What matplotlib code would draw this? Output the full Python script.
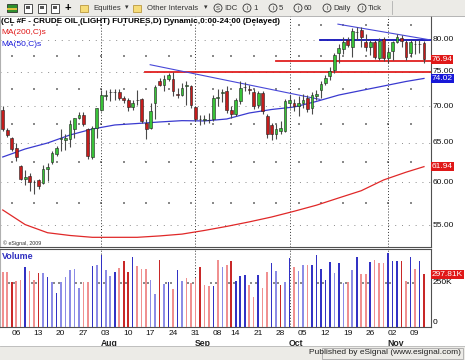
import matplotlib
matplotlib.use("Agg")
import matplotlib.pyplot as plt
import matplotlib.transforms as mtrans
from matplotlib.patches import Rectangle, Ellipse
import numpy as np

plt.rcParams['font.family'] = ['Liberation Sans', 'DejaVu Sans']

# daily bars, Jul 1 2009 .. Nov 12 2009 (trading days only)
opens = [69.5, 66.7, 65.6, 64.3, 62.0, 60.4, 60.8, 60.1, 60.3, 59.9,
         61.6, 62.5, 63.6, 65.5, 65.3, 65.5, 66.8, 68.3, 68.7, 66.8,
         63.1, 67.0, 69.5, 71.5, 72.0, 72.0, 72.0, 71.2, 70.9, 69.9,
         70.8, 71.0, 67.7, 67.0, 70.5, 73.6, 73.1, 73.9, 74.0, 71.7,
         71.6, 72.9, 72.9, 69.9, 68.2, 68.1, 68.0, 68.2, 71.1, 71.9,
         72.1, 69.5, 68.9, 70.7, 72.8, 72.4, 72.0, 70.1, 71.9, 68.6,
         67.4, 66.1, 66.6, 66.6, 70.5, 70.5, 70.0, 70.5, 71.1, 69.8,
         71.4, 72.3, 73.3, 74.4, 75.3, 77.9, 78.5, 80.0, 78.8, 81.3,
         81.6, 79.7, 78.8, 79.7, 77.1, 80.1, 77.1, 78.2, 79.6, 80.3,
         79.7, 77.9, 79.4, 79.3, 79.5]
highs = [70.0, 67.0, 65.8, 65.0, 62.2, 61.5, 61.1, 60.3, 60.4, 62.1,
         62.4, 63.9, 64.6, 66.8, 66.1, 68.1, 68.4, 69.1, 69.1, 67.0,
         67.2, 69.8, 72.3, 72.3, 72.5, 72.5, 72.4, 71.5, 71.1, 70.9,
         72.3, 71.2, 68.2, 70.5, 73.1, 74.1, 74.6, 74.8, 75.0, 72.6,
         73.3, 73.6, 73.1, 70.0, 68.8, 68.8, 69.0, 71.6, 72.5, 72.4,
         72.9, 70.0, 71.1, 73.6, 73.5, 73.0, 72.5, 72.2, 72.2, 68.9,
         67.6, 67.5, 67.9, 71.0, 71.6, 71.0, 71.5, 71.8, 71.6, 72.0,
         72.3, 73.6, 74.6, 75.8, 78.0, 79.4, 80.5, 80.5, 82.0, 82.1,
         82.2, 81.0, 80.0, 80.0, 80.3, 80.5, 78.9, 79.9, 81.0, 80.8,
         80.0, 80.0, 80.0, 80.0, 79.9]
lows = [66.6, 65.7, 63.9, 62.7, 60.3, 59.7, 59.0, 58.6, 59.2, 59.8,
        60.2, 62.3, 63.3, 63.9, 64.0, 64.4, 65.6, 68.2, 67.3, 62.9,
        62.9, 65.6, 69.3, 70.9, 70.7, 70.9, 70.9, 70.5, 69.3, 69.5,
        70.2, 67.7, 65.5, 66.8, 68.2, 72.9, 72.2, 73.7, 71.5, 71.2,
        71.4, 70.2, 69.8, 67.9, 67.4, 67.5, 67.6, 67.9, 70.0, 70.6,
        69.0, 68.4, 68.6, 70.3, 72.2, 71.7, 69.6, 69.8, 68.9, 65.6,
        65.4, 65.5, 66.2, 66.4, 69.8, 69.3, 68.6, 69.8, 69.1, 68.9,
        70.9, 71.2, 73.0, 73.8, 74.8, 76.3, 77.8, 78.9, 77.3, 80.0,
        78.8, 78.2, 77.6, 77.0, 76.9, 76.7, 76.4, 76.8, 79.5, 78.9,
        76.9, 77.3, 77.8, 78.0, 76.4]
closes = [66.8, 66.0, 64.2, 63.1, 60.4, 60.6, 60.1, 60.0, 59.6, 61.7,
          61.9, 63.7, 64.3, 65.6, 65.6, 67.5, 68.3, 68.7, 67.5, 63.3,
          67.0, 69.7, 71.6, 71.65, 71.95, 72.05, 71.2, 70.9, 69.9, 70.4,
          70.85, 67.9, 66.9, 69.3, 72.7, 73.1, 73.9, 74.6, 72.2, 71.65,
          72.6, 73.0, 70.1, 68.2, 68.15, 68.15, 68.05, 71.1, 71.3, 71.95,
          69.5, 68.9, 70.9, 72.6, 72.75, 72.35, 70.0, 71.9, 69.3, 66.1,
          66.1, 66.9, 67.0, 70.7, 70.9, 70.0, 70.5, 70.9, 69.6, 71.6,
          71.8, 73.2, 74.1, 75.2, 77.6, 78.7, 79.6, 79.2, 81.5, 81.25,
          80.5, 78.8, 79.7, 77.3, 79.9, 77.1, 78.1, 79.7, 80.5, 79.9,
          77.3, 79.6, 79.35, 79.35, 76.94]

# volume in thousands, and shade code per bar (B/b blue dark/light, R/r red dark/light)
volume_k = [308, 308, 252, 261, 265, 337, 318, 267, 305, 306,
            282, 254, 190, 256, 282, 321, 325, 222, 256, 256,
            344, 350, 404, 323, 290, 310, 331, 370, 308, 393,
            344, 325, 325, 265, 186, 378, 244, 252, 212, 323,
            259, 275, 246, 278, 340, 237, 233, 231, 378, 337,
            348, 374, 258, 290, 295, 237, 167, 293, 222, 312,
            363, 318, 237, 254, 387, 337, 316, 352, 352, 352,
            408, 325, 265, 367, 303, 359, 246, 256, 321, 397,
            299, 299, 367, 378, 363, 363, 419, 374, 374, 370,
            261, 397, 329, 374, 297.81]
volume_shade = ("rrRrrBrrRb" "BbBbbbbbrr" "BbBbbBrRRB" "rrrbbRbBrB" "brrrRrrBrb"
                "rRBBBrrBrr" "BbRbBrbbrB" "BBBBbBbrbB" "rrBrrrBBBR" "rBrBR")

# moving averages, sampled every 5th bar
ma_idx = [0, 5, 10, 15, 20, 25, 30, 35, 40, 45, 50, 55, 60, 65, 70, 75, 80, 85, 90, 94]
ma200 = [56.75, 55.1, 54.2, 53.9, 53.7, 53.7, 53.7, 53.85, 54.05, 54.45,
         54.9, 55.4, 55.95, 56.6, 57.3, 58.15, 59.0, 60.3, 61.25, 61.94]
ma50 = [63.16, 64.19, 64.97, 66.03, 66.83, 67.38, 67.58, 67.79, 67.97, 67.93,
        68.2, 69.03, 69.52, 69.87, 70.66, 71.58, 72.24, 72.9, 73.57, 74.02]

# drawn study lines: (start bar, level)
red_lines = [(31.8, 75.0), (61.0, 76.7)]
blue_hline = (70.8, 80.0)
trend_a = ([32.9, 70.8], [76.1, 70.95])
trend_b = ([74.8, 95.5], [82.6, 80.0])

tick_idx = [2, 7, 12, 17, 22, 27, 32, 37, 42, 47, 51, 56, 61, 66, 71, 76, 81, 86, 91]
tick_lbl = ['06', '13', '20', '27', '03', '10', '17', '24', '31', '08', '14', '21', '28',
            '05', '12', '19', '26', '02', '09']
month_idx = [22, 43, 64, 86]
month_lbl = ['Aug', 'Sep', 'Oct', 'Nov']
price_levels = [55, 60, 65, 70, 75, 80]

W, H = 465, 360
XL = (-0.61, 95.5)
FS = 6.0
fig = plt.figure(figsize=(W / 100, H / 100), dpi=100)


def fb(top, bottom, right=430.7):
    return [0, 1 - bottom / H, right / W, (bottom - top) / H]


ax = fig.add_axes(fb(16, 247))
axv = fig.add_axes(fb(249, 327))

x = np.arange(len(closes))
o = np.array(opens); c = np.array(closes)

# price panel
ax.set_yscale('log')
ax.set_xlim(*XL)
ax.set_ylim(52.66, 83.97)
for lvl in price_levels:
    ax.axhline(lvl, color='#8a8a8a', lw=0.7, ls=(0, (1, 6)), zorder=1)
wx, wy = np.meshgrid(tick_idx, [l + 2.5 for l in price_levels])
ax.scatter(wx.ravel(), wy.ravel(), s=0.7, c='#8a8a8a', marker='s', linewidths=0, zorder=1)
for m in month_idx:
    ax.axvline(m, color='#333333', lw=0.7, ls=(0, (1, 2)), zorder=1)
    axv.axvline(m, color='#333333', lw=0.7, ls=(0, (1, 2)), zorder=1)

ax.plot(ma_idx, ma200, color='#e02828', lw=0.9, zorder=2)
ax.plot(ma_idx, ma50, color='#3a3ad0', lw=0.9, zorder=2)
for start, lvl in red_lines:
    ax.plot([start, XL[1]], [lvl, lvl], color='#e02020', lw=1.3, zorder=2)
ax.plot([blue_hline[0], XL[1]], [blue_hline[1]] * 2, color='#1010b8', lw=1.3, zorder=2)
ax.plot(*trend_a, color='#4848d8', lw=0.8, zorder=2)
ax.plot(*trend_b, color='#4848d8', lw=0.8, zorder=2)

ax.vlines(x, lows, highs, color='#4a4a4a', lw=0.8, zorder=3)
body_col = np.where(c >= o, '#38c238', '#c41c1c')
ax.bar(x, np.abs(c - o), bottom=np.minimum(o, c), width=0.62, color=body_col,
       edgecolor='#222222', linewidth=0.4, zorder=4)

for a in (ax, axv):
    a.set_xticks([]); a.set_yticks([])
    a.yaxis.set_minor_locator(matplotlib.ticker.NullLocator())
    a.spines['left'].set_color('#b0b0b0')
    a.spines['right'].set_color('#505050')
    a.spines['bottom'].set_color('#505050')
    a.spines['top'].set_color('#505050')
ax.spines['top'].set_visible(False)
ax.yaxis.set_minor_locator(matplotlib.ticker.NullLocator())

yt = ax.get_yaxis_transform()
for lvl in price_levels:
    ax.text(1.004, lvl, f'{lvl:.2f}', transform=yt, va='center', ha='left', fontsize=FS,
            color='#111111')
box = dict(boxstyle='square,pad=0.12', ec='none')
ax.text(1.002, closes[-1], f'{closes[-1]:.2f}', transform=yt, va='center', ha='left',
        fontsize=FS, color='white', bbox={**box, 'fc': '#e01818'}, zorder=6)
ax.text(1.002, ma50[-1], f'{ma50[-1]:.2f}', transform=yt, va='center', ha='left',
        fontsize=FS, color='white', bbox={**box, 'fc': '#1818d8'}, zorder=6)
ax.text(1.002, ma200[-1], f'{ma200[-1]:.2f}', transform=yt, va='center', ha='left',
        fontsize=FS, color='white', bbox={**box, 'fc': '#e01818'}, zorder=6)

ax.text(0.003, 0.975, '(CL #F - CRUDE OIL (LIGHT) FUTURES,D) Dynamic,0:00-24:00 (Delayed)',
        transform=ax.transAxes, fontsize=5.9, fontweight='bold', va='center', ha='left')
ax.text(0.003, 0.928, 'MA(200,C)s', transform=ax.transAxes, fontsize=FS, color='#e01818',
        va='center')
ax.text(0.003, 0.878, 'MA(50,C)s', transform=ax.transAxes, fontsize=FS, color='#1818d8',
        va='center')
ax.text(0.006, 0.017, '\u00a9 eSignal, 2009', transform=ax.transAxes, fontsize=3.8,
        color='#333333', va='center')

# volume panel
vcol = {'B': '#3232c4', 'b': '#8c8ce6', 'R': '#c82828', 'r': '#f09090'}
axv.set_xlim(*XL)
axv.set_ylim(0, 440)
axv.bar(x, volume_k, width=0.36, color=[vcol[s] for s in volume_shade], zorder=3)
axv.scatter([t + d for t in tick_idx for d in (-0.55, 0.5)], [250] * (2 * len(tick_idx)),
            s=0.7, c='#8a8a8a', marker='s', linewidths=0, zorder=2)
vt = axv.get_yaxis_transform()
axv.text(1.004, 250, '250K', transform=vt, va='center', ha='left', fontsize=FS)
axv.text(1.004, 6, '0', transform=vt, va='bottom', ha='left', fontsize=FS)
axv.text(1.002, volume_k[-1], f'{volume_k[-1]:.2f}K', transform=vt, va='center', ha='left',
         fontsize=FS, color='white', bbox={**box, 'fc': '#e01818'}, zorder=6)
axv.text(0.005, 0.90, 'Volume', transform=axv.transAxes, fontsize=6.4, fontweight='bold',
         color='#3030c0', va='center')

# date axis
dt = mtrans.blended_transform_factory(axv.transData, fig.transFigure)
for i, s in zip(tick_idx, tick_lbl):
    fig.text(i - 0.1, 1 - 333.5 / H, s, transform=dt, fontsize=FS, ha='left', va='center',
             color='#111111')
for i, s in zip(month_idx, month_lbl):
    fig.text(i - 0.1, 1 - 343.5 / H, s, transform=dt, fontsize=6.2, ha='left', va='center',
             fontweight='bold', color='#222222')

# window chrome: toolbar and status bar
TB = 5.6
ov = fig.add_axes([0, 0, 1, 1], zorder=10)
ov.set_xlim(0, W); ov.set_ylim(H, 0); ov.axis('off'); ov.patch.set_alpha(0)
ov.add_patch(Rectangle((0, 0), W, 15.5, fc='#ecebe7', ec='none'))
ov.plot([0, W], [15.5, 15.5], color='#a8a8a8', lw=0.6)
ov.add_patch(Rectangle((7, 4), 10, 8, fc='#2f8f2f', ec='#1a1a1a', lw=0.5))
ov.add_patch(Rectangle((7, 8), 10, 1.5, fc='#e0c040', ec='none'))
for px in (24, 38, 51):
    ov.add_patch(Rectangle((px, 3.5), 8, 9, fc='white', ec='#333333', lw=0.6))
    ov.add_patch(Rectangle((px + 2, 6), 4, 3, fc='#555555', ec='none'))
ov.text(68, 8, '+', fontsize=8, fontweight='bold', ha='center', va='center')
for px in (80, 133):
    ov.add_patch(Rectangle((px, 5), 8, 6.5, fc='#f6dc78', ec='#b08a28', lw=0.5))
ov.text(93, 8, 'Equities', fontsize=TB, va='center', color='#333333')
ov.text(125, 8, '\u25be', fontsize=5, va='center', color='#333333')
ov.text(147, 8, 'Other Intervals', fontsize=TB, va='center', color='#333333')
ov.text(204, 8, '\u25be', fontsize=5, va='center', color='#333333')
for cx, sym, lab in ((218, 'S', 'IDC'), (247, 'I', '1'), (273, 'I', '5'), (298, 'I', '60'),
                     (327, 'I', 'Daily'), (362, 'I', 'Tick')):
    ov.add_patch(Ellipse((cx, 8), 8, 8, fc='none', ec='#333333', lw=0.6))
    ov.text(cx, 8.2, sym, fontsize=4.2, ha='center', va='center', color='#333333')
    ov.text(cx + 6, 8, lab, fontsize=TB, va='center', color='#333333')
ov.plot([392, 392], [1, 14], color='#b0b0b0', lw=0.6)

ov.add_patch(Rectangle((0, 346), W, 14, fc='#ecebe7', ec='none'))
ov.plot([0, W], [346, 346], color='#b8b8b8', lw=0.6)
ov.add_patch(Rectangle((322, 347.5), 141, 11, fc='none', ec='#a8a8a8', lw=0.6))
ov.text(461, 353, 'Published by eSignal (www.esignal.com)', fontsize=FS, ha='right',
        va='center', color='#222222')

fig.savefig('out.png', dpi=100)
